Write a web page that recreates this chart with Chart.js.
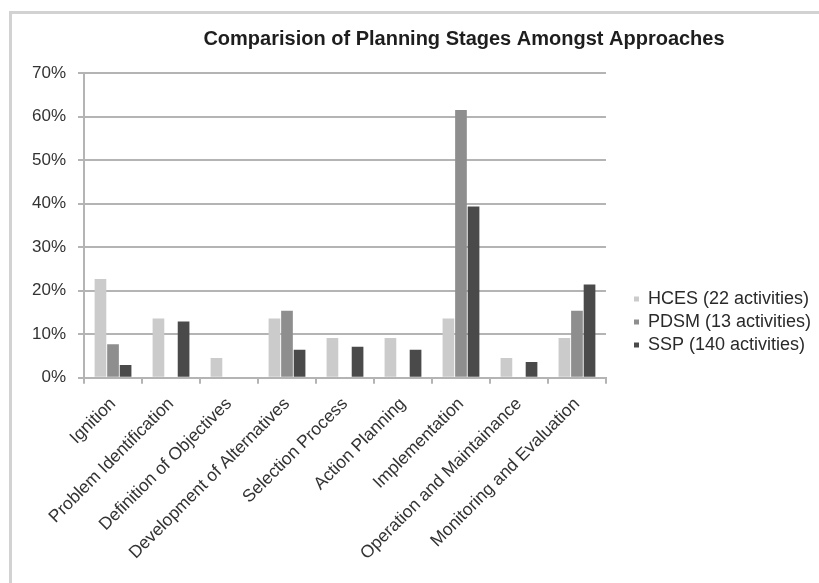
<!DOCTYPE html>
<html>
<head>
<meta charset="utf-8">
<script src="https://cdn.jsdelivr.net/npm/chart.js@4/dist/chart.umd.min.js"></script>
<style>
  html, body { margin: 0; padding: 0; background: #fff; overflow: hidden; }
  #wrap { position: relative; width: 819px; height: 583px; }
  #frame { position: absolute; left: 9px; top: 11px; width: 900px; height: 700px;
           border: 3px solid #d2d2d2; box-sizing: border-box; }
  canvas { position: absolute; left: 0; top: 0; }
</style>
</head>
<body>
<div id="wrap">
  <div id="frame"></div>
  <canvas id="c" width="819" height="583"></canvas>
</div>
<script>
// Planning stages and share of activities (%) per approach
const stages = [
  'Ignition', 'Problem Identification', 'Definition of Objectives',
  'Development of Alternatives', 'Selection Process', 'Action Planning',
  'Implementation', 'Operation and Maintainance', 'Monitoring and Evaluation'
];
const hces = [22.7, 13.6, 4.5, 13.6, 9.1, 9.1, 13.6, 4.5, 9.1];
const pdsm = [7.7, 0, 0, 15.4, 0, 0, 61.5, 0, 15.4];
const ssp  = [2.9, 12.9, 0, 6.4, 7.1, 6.4, 39.3, 3.6, 21.4];
const seriesNames = ['HCES (22 activities)', 'PDSM (13 activities)', 'SSP (140 activities)'];
const yTicks = [0, 10, 20, 30, 40, 50, 60, 70];

const FONT = "'Liberation Sans', Arial, Helvetica, sans-serif";
const GRID = '#b4b4b4';

function bar(label, data, color) {
  return {
    label, data,
    backgroundColor: color,
    borderWidth: 0,
    categoryPercentage: 0.65,
    barPercentage: 0.93
  };
}

// Places the title over the plot and the legend beside it, lower than centre
const placeBoxes = {
  id: 'placeBoxes',
  afterLayout(chart) {
    const t = chart.titleBlock;
    const tw = t.right - t.left;
    const tc = 464;
    t.left = tc - tw / 2;
    t.right = tc + tw / 2;

    const lg = chart.legend;
    const pad = lg.options.labels.padding;
    const w = lg.right - lg.left;
    const h = lg.bottom - lg.top;
    lg.left = 634 - pad;
    lg.right = lg.left + w;
    lg.top = 290 - pad;
    lg.bottom = lg.top + h;
  }
};

new Chart(document.getElementById('c'), {
  type: 'bar',
  data: {
    labels: stages,
    datasets: [
      bar(seriesNames[0], hces, '#cbcbcb'),
      bar(seriesNames[1], pdsm, '#8e8e8e'),
      bar(seriesNames[2], ssp,  '#4a4a4a')
    ]
  },
  plugins: [placeBoxes],
  options: {
    responsive: false,
    animation: false,
    devicePixelRatio: 1,
    layout: { padding: { left: 20, right: 21, top: 0, bottom: 9 } },
    plugins: {
      title: {
        display: true,
        text: 'Comparision of Planning Stages Amongst Approaches',
        color: '#1e1e1e',
        font: { family: FONT, size: 20, weight: 'bold' },
        padding: { top: 27, bottom: 22 }
      },
      legend: {
        position: 'right',
        align: 'start',
        labels: {
          color: '#2a2a2a',
          font: { family: FONT, size: 18 },
          boxWidth: 5,
          boxHeight: 5,
          padding: 5
        }
      },
      tooltip: { enabled: false }
    },
    scales: {
      x: {
        grid: {
          display: true,
          drawOnChartArea: false,
          drawTicks: true,
          tickLength: 6,
          offset: true,
          color: GRID,
          lineWidth: 2
        },
        border: { color: GRID, width: 2 },
        ticks: {
          color: '#333',
          font: { family: FONT, size: 17.5 },
          minRotation: 45,
          maxRotation: 45,
          autoSkip: false,
          padding: 10
        }
      },
      y: {
        min: 0,
        max: 70,
        afterBuildTicks: (axis) => { axis.ticks = yTicks.map(v => ({ value: v })); },
        grid: {
          color: GRID,
          lineWidth: 2,
          tickLength: 6,
          drawTicks: true
        },
        border: { color: GRID, width: 2 },
        ticks: {
          color: '#333',
          font: { family: FONT, size: 17 },
          padding: 12,
          callback: (v) => v + '%'
        }
      }
    }
  }
});
</script>
</body>
</html>
